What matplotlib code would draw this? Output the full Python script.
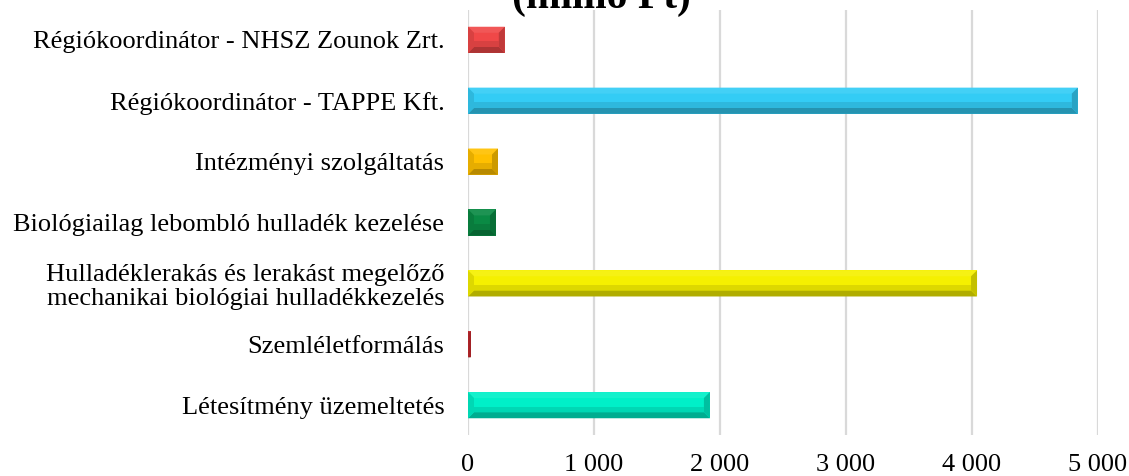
import numpy as np
import matplotlib.pyplot as plt
from matplotlib.patches import Polygon
from matplotlib.colors import to_rgb

plt.rcParams["font.family"] = ["Liberation Serif", "DejaVu Serif"]

categories = [
	"Létesítmény üzemeltetés",
	"Szemléletformálás",
	"Hulladéklerakás és lerakást megelőző\nmechanikai biológiai hulladékkezelés",
	"Biológiailag lebombló hulladék kezelése",
	"Intézményi szolgáltatás",
	"Régiókoordinátor - TAPPE Kft.",
	"Régiókoordinátor - NHSZ Zounok Zrt.",
]
values = [1920, 22, 4040, 222, 238, 4840, 292]
colors = ["#00F0C8", "#C0282C", "#F5F000", "#0A8A44", "#FFC000", "#33CCF5", "#F04848"]
xticks = [0, 1000, 2000, 3000, 4000, 5000]
xticklabels = ["0", "1 000", "2 000", "3 000", "4 000", "5 000"]


def shade(c, f):
	r = np.array(to_rgb(c))
	if f < 1:
		return tuple(r * f)
	return tuple(r + (1 - r) * (f - 1))


fig = plt.figure(figsize=(11.29, 4.76), dpi=100)
ax = fig.add_axes([468 / 1129, 41 / 476, 630 / 1129, 425 / 476])

y = np.arange(len(categories))
bars = ax.barh(y, values, height=0.43, color=colors, zorder=2)
ax.set_xlim(0, 5000)
ax.set_ylim(-0.49, 6.49)
ax.set_xticks(xticks)
ax.set_xticklabels(xticklabels, fontsize=19)
ax.set_yticks(y)
ax.set_yticklabels(categories, fontsize=19, linespacing=1.15)
ax.tick_params(axis="both", length=0)
ax.tick_params(axis="y", pad=17)
ax.tick_params(axis="x", pad=13.5)
ax.grid(axis="x", color="#D9D9D9", linewidth=1.6, zorder=0)
for s in ax.spines.values():
	s.set_visible(False)

# bevel edges, built in pixel space from each bar's extent
fig.canvas.draw()
for b, c in zip(bars, colors):
	ext = b.get_window_extent()
	x0, y0, x1, y1 = ext.x0, ext.y0, ext.x1, ext.y1
	d = min(6, (x1 - x0) / 2, (y1 - y0) / 2)
	top = [(x0, y1), (x1, y1), (x1 - d, y1 - d), (x0 + d, y1 - d)]
	bot = [(x0, y0), (x1, y0), (x1 - d, y0 + d), (x0 + d, y0 + d)]
	left = [(x0, y0), (x0, y1), (x0 + d, y1 - d), (x0 + d, y0 + d)]
	right = [(x1, y0), (x1, y1), (x1 - d, y1 - d), (x1 - d, y0 + d)]
	for pts, f in [(top, 1.08), (bot, 0.72), (left, 0.9), (right, 0.8)]:
		fig.add_artist(Polygon(pts, closed=True, transform=None,
				facecolor=shade(c, f), edgecolor="none", zorder=3))
	h = y1 - y0 - 2 * d
	face = [(x0 + d, y0 + d), (x1 - d, y0 + d), (x1 - d, y0 + d + 0.4 * h),
			(x0 + d, y0 + d + 0.4 * h)]
	fig.add_artist(Polygon(face, closed=True, transform=None,
			facecolor=shade(c, 0.9), edgecolor="none", zorder=3))

fig.text(601 / 1129, 1 - 8 / 476, "(millió Ft)", fontsize=30, fontweight="bold",
		ha="center", va="baseline")

fig.savefig("out.png", dpi=100)
